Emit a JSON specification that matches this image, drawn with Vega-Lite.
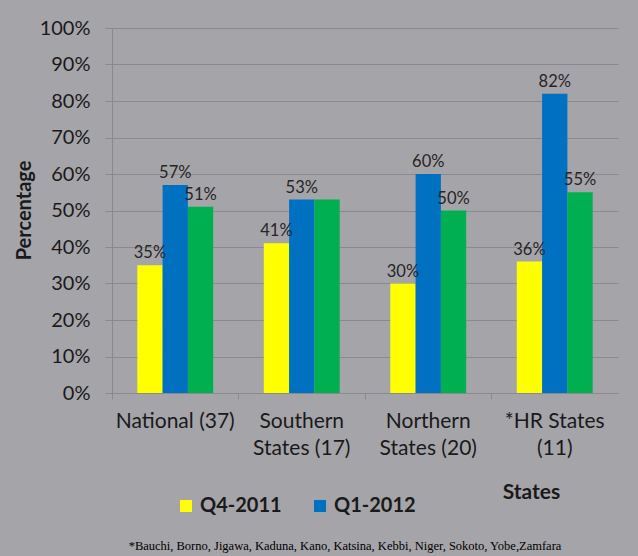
{
  "$schema": "https://vega.github.io/schema/vega-lite/v6.json",
  "width": 506,
  "height": 365,
  "autosize": "none",
  "padding": {"left": 112, "top": 28, "right": 20, "bottom": 163},
  "background": "#a5a4a9",
  "title": {
    "text": "*Bauchi, Borno, Jigawa, Kaduna, Kano, Katsina, Kebbi, Niger, Sokoto, Yobe,Zamfara",
    "orient": "bottom",
    "anchor": "middle",
    "offset": 24,
    "dx": -20,
    "font": "Liberation Serif",
    "fontSize": 12.5,
    "fontWeight": "normal",
    "color": "#000000"
  },
  "data": {
    "values": [
      {"state": "National (37)", "series": "Q4-2011", "value": 0.35, "label": "35%"},
      {"state": "National (37)", "series": "Q1-2012", "value": 0.57, "label": "57%"},
      {"state": "National (37)", "series": "Q2-2012", "value": 0.51, "label": "51%"},
      {"state": "Southern States (17)", "series": "Q4-2011", "value": 0.41, "label": "41%"},
      {"state": "Southern States (17)", "series": "Q1-2012", "value": 0.53, "label": "53%"},
      {"state": "Southern States (17)", "series": "Q2-2012", "value": 0.53, "label": ""},
      {"state": "Northern States (20)", "series": "Q4-2011", "value": 0.30, "label": "30%"},
      {"state": "Northern States (20)", "series": "Q1-2012", "value": 0.60, "label": "60%"},
      {"state": "Northern States (20)", "series": "Q2-2012", "value": 0.50, "label": "50%"},
      {"state": "*HR States (11)", "series": "Q4-2011", "value": 0.36, "label": "36%"},
      {"state": "*HR States (11)", "series": "Q1-2012", "value": 0.82, "label": "82%"},
      {"state": "*HR States (11)", "series": "Q2-2012", "value": 0.55, "label": "55%"}
    ]
  },
  "encoding": {
    "x": {
      "field": "state",
      "type": "nominal",
      "sort": null,
      "scale": {"paddingInner": 0, "paddingOuter": 0},
      "axis": {
        "bandPosition": 0,
        "labelAngle": 0,
        "labelAlign": "center",
        "labelExpr": "datum.value == 'Southern States (17)' ? ['Southern', 'States (17)'] : datum.value == 'Northern States (20)' ? ['Northern', 'States (20)'] : datum.value == '*HR States (11)' ? ['*HR States', '(11)'] : datum.value",
        "labelFontSize": 21,
        "labelLineHeight": 27,
        "labelPadding": 11,
        "labelColor": "#1a1a1a",
        "labelLimit": 0,
        "ticks": true,
        "tickSize": 6,
        "tickColor": "#8a8a8e",
        "domainColor": "#8a8a8e",
        "grid": false,
        "title": "States",
        "titleX": 419,
        "titleY": 99,
        "titleAlign": "center",
        "titleBaseline": "middle",
        "titleFontSize": 21,
        "titleFontWeight": "bold",
        "titleColor": "#1a1a1a"
      }
    },
    "xOffset": {
      "field": "series",
      "type": "nominal",
      "sort": ["Q4-2011", "Q1-2012", "Q2-2012"],
      "scale": {"paddingInner": 0, "paddingOuter": 1.03}
    },
    "y": {
      "field": "value",
      "type": "quantitative",
      "scale": {"domain": [0, 1]},
      "axis": {
        "format": ".0%",
        "values": [0, 0.1, 0.2, 0.3, 0.4, 0.5, 0.6, 0.7, 0.8, 0.9, 1],
        "grid": true,
        "gridColor": "#8a8a8e",
        "tickSize": 7,
        "tickColor": "#8a8a8e",
        "domainColor": "#8a8a8e",
        "labelFontSize": 20,
        "labelPadding": 15,
        "labelColor": "#1a1a1a",
        "title": "Percentage",
        "titleX": -88,
        "titleY": 182,
        "titleAlign": "center",
        "titleBaseline": "middle",
        "titleFontSize": 20,
        "titleFontWeight": "bold",
        "titleColor": "#1a1a1a"
      }
    }
  },
  "layer": [
    {
      "mark": {"type": "bar"},
      "encoding": {
        "color": {
          "field": "series",
          "type": "nominal",
          "scale": {"domain": ["Q4-2011", "Q1-2012", "Q2-2012"], "range": ["#ffff00", "#0070c0", "#00b050"]},
          "legend": {
            "values": ["Q4-2011", "Q1-2012"],
            "orient": "none",
            "legendX": 64,
            "legendY": 468,
            "direction": "horizontal",
            "title": null,
            "symbolType": "square",
            "symbolSize": 144,
            "symbolStrokeWidth": 0,
            "symbolOpacity": 1,
            "labelFontSize": 20,
            "labelFontWeight": "bold",
            "labelColor": "#1a1a1a",
            "labelOffset": 4,
            "columnPadding": 28
          }
        }
      }
    },
    {
      "mark": {"type": "text", "baseline": "alphabetic", "dy": -7, "fontSize": 16.5, "color": "#262626"},
      "encoding": {"text": {"field": "label"}}
    }
  ],
  "config": {
    "view": {"stroke": null},
    "font": "Lato"
  }
}
